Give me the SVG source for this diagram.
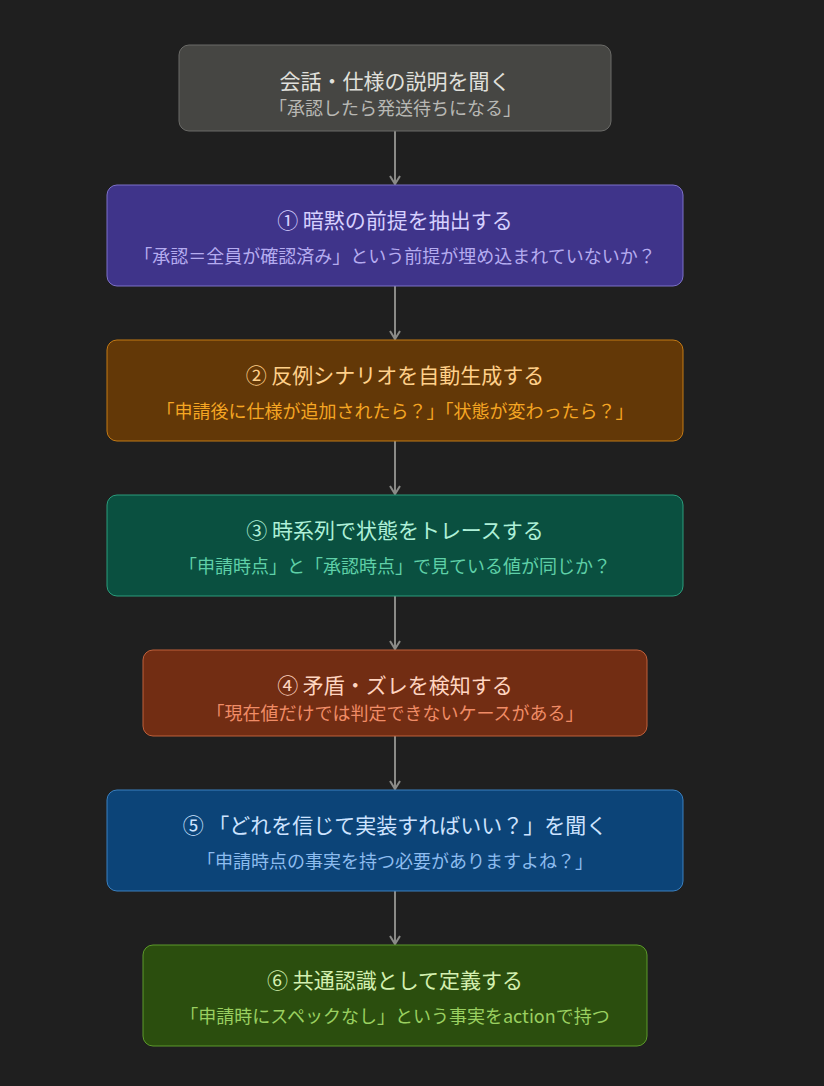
<svg xmlns="http://www.w3.org/2000/svg" width="824" height="1086" viewBox="0 0 824 1086">
<style>
text{font-family:"Noto Sans CJK JP","Noto Sans",sans-serif;text-anchor:middle}
.t{font-size:21px}
.s{font-size:18px}
.e{stroke:#8a8a87;stroke-width:2;fill:none}
</style>
<defs><marker id="a" viewBox="0 0 12 12" refX="10" refY="6" markerWidth="12" markerHeight="12" markerUnits="userSpaceOnUse" orient="auto"><path d="M2,1 L10,6 L2,11" fill="none" stroke="#8a8a87" stroke-width="2"/></marker></defs>
<rect width="824" height="1086" fill="#1f1f1f"/>
<g id="connectors">
<path class="e" d="M395,131V184" marker-end="url(#a)"/>
<path class="e" d="M395,286V339" marker-end="url(#a)"/>
<path class="e" d="M395,441V494" marker-end="url(#a)"/>
<path class="e" d="M395,596V649" marker-end="url(#a)"/>
<path class="e" d="M395,736V789" marker-end="url(#a)"/>
<path class="e" d="M395,891V944" marker-end="url(#a)"/>
</g>
<g id="n0"><rect x="179" y="45" width="432" height="86" rx="10" fill="#464643" stroke="#6b6b68"/><text class="t" x="395" y="89" fill="#e0e0dc">会話・仕様の説明を聞く</text><text class="s" x="395" y="115" fill="#b8b8b4">「承認したら発送待ちになる」</text></g>
<g id="n1"><rect x="107" y="185" width="576" height="101" rx="10" fill="#3f348a" stroke="#7d71c9"/><text class="t" x="395" y="228" fill="#d6d0ff">① 暗黙の前提を抽出する</text><text class="s" x="395" y="263" fill="#b5acf0">「承認＝全員が確認済み」という前提が埋め込まれていないか？</text></g>
<g id="n2"><rect x="107" y="340" width="576" height="101" rx="10" fill="#633807" stroke="#c47a15"/><text class="t" x="395" y="383" fill="#ffd08a">② 反例シナリオを自動生成する</text><text class="s" x="395" y="418" fill="#f5a623">「申請後に仕様が追加されたら？」「状態が変わったら？」</text></g>
<g id="n3"><rect x="107" y="495" width="576" height="101" rx="10" fill="#0a5040" stroke="#2a9d7c"/><text class="t" x="395" y="538" fill="#aef0d8">③ 時系列で状態をトレースする</text><text class="s" x="395" y="573" fill="#5fd0a8">「申請時点」と「承認時点」で見ている値が同じか？</text></g>
<g id="n4"><rect x="143" y="650" width="504" height="86" rx="10" fill="#722d13" stroke="#c0603a"/><text class="t" x="395" y="693" fill="#ffd5c0">④ 矛盾・ズレを検知する</text><text class="s" x="395" y="720" fill="#f08c66">「現在値だけでは判定できないケースがある」</text></g>
<g id="n5"><rect x="107" y="790" width="576" height="101" rx="10" fill="#0c4478" stroke="#3a80c0"/><text class="t" x="395" y="833" fill="#cde3ff">⑤ 「どれを信じて実装すればいい？」を聞く</text><text class="s" x="395" y="868" fill="#8cbcef">「申請時点の事実を持つ必要がありますよね？」</text></g>
<g id="n6"><rect x="143" y="945" width="504" height="101" rx="10" fill="#2b4e0e" stroke="#5c9a2a"/><text class="t" x="395" y="988" fill="#d4f0b0">⑥ 共通認識として定義する</text><text class="s" x="395" y="1023" fill="#9ad060">「申請時にスペックなし」という事実をactionで持つ</text></g>
</svg>
